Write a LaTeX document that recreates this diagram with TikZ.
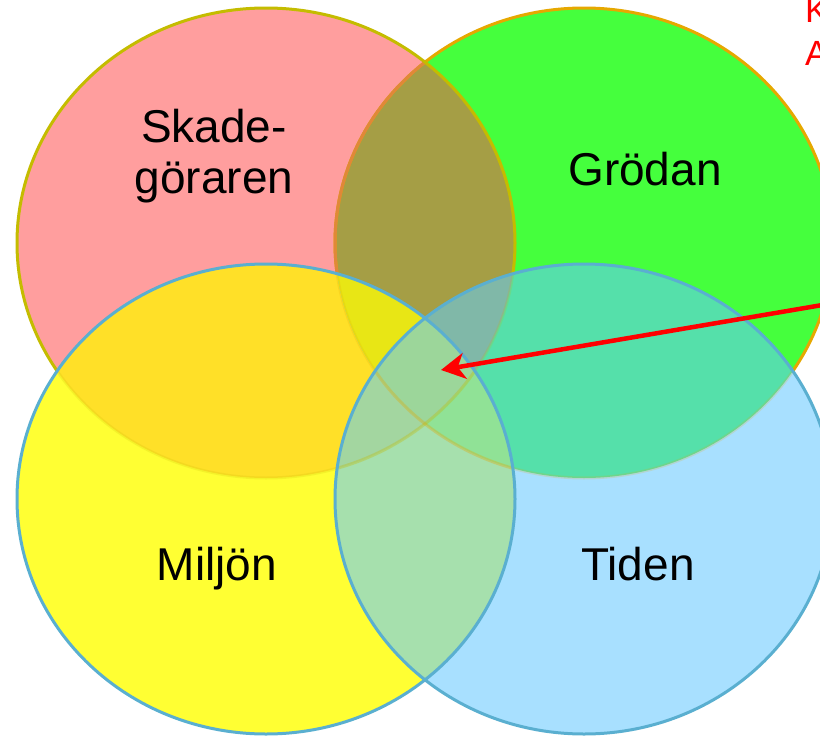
\documentclass[tikz,border=0pt]{standalone}
\usepackage{fontspec}
\setmainfont{Liberation Sans}
\usetikzlibrary{arrows.meta}
\definecolor{cP}{HTML}{FF9E9E}
\definecolor{cG}{HTML}{45FF3D}
\definecolor{cY}{HTML}{FFFF33}
\definecolor{cB}{HTML}{A8E0FF}
\definecolor{cPG}{HTML}{A59E45}
\definecolor{cPY}{HTML}{FFE028}
\definecolor{cPB}{HTML}{A3D6A0}
\definecolor{cGY}{HTML}{90E296}
\definecolor{cGB}{HTML}{55E0AA}
\definecolor{cYB}{HTML}{A6E0AD}
\definecolor{cPGY}{HTML}{E8E615}
\definecolor{cPGB}{HTML}{80B8A8}
\definecolor{cPYB}{HTML}{A3D6A0}
\definecolor{cGYB}{HTML}{90E296}
\definecolor{cPGYB}{HTML}{9CD69A}
\definecolor{lnP}{HTML}{C4BC00}
\definecolor{lnG}{HTML}{E6A800}
\definecolor{lnGinP}{HTML}{E08838}
\definecolor{lnYB}{HTML}{5AAFD0}
\def\cirP{(266,243) ellipse [x radius=249pt, y radius=235pt]}
\def\cirG{(584,243) ellipse [x radius=249pt, y radius=235pt]}
\def\cirY{(266,499) ellipse [x radius=249pt, y radius=235pt]}
\def\cirB{(584,499) ellipse [x radius=249pt, y radius=235pt]}
\newcommand\fillOne[2]{\fill[#2] #1;}
\newcommand\fillTwo[3]{\begin{scope}\clip #1; \fill[#3] #2;\end{scope}}
\newcommand\fillThree[4]{\begin{scope}\clip #1; \clip #2; \fill[#4] #3;\end{scope}}
\newcommand\fillFour[5]{\begin{scope}\clip #1; \clip #2; \clip #3; \fill[#5] #4;\end{scope}}
\tikzset{
  lab/.style={inner sep=0pt, align=center, font=\fontsize{46}{51}\selectfont},
  redlab/.style={inner sep=0pt, anchor=base west, text=red, font=\fontsize{35}{40}\selectfont},
  edgeP/.style={draw=lnP, line width=3pt},
  edgeG/.style={draw=lnG, line width=3pt},
  edgeYB/.style={draw=lnYB, line width=3pt},
  faint/.style={line width=3pt, opacity=0.18},
  redarrow/.style={draw=red, line width=4.5pt, -{Stealth[length=24pt, width=26pt, inset=7pt]}}
}
\begin{document}
\begin{tikzpicture}[x=1pt,y=-1pt]
\useasboundingbox (0,0) rectangle (820,736);
\clip (0,0) rectangle (820,736);
% base fills
\fillOne{\cirP}{cP}
\fillOne{\cirG}{cG}
\fillOne{\cirY}{cY}
\fillOne{\cirB}{cB}
\fillTwo{\cirP}{\cirG}{cPG}
\fillTwo{\cirP}{\cirY}{cPY}
\fillTwo{\cirP}{\cirB}{cPB}
\fillTwo{\cirG}{\cirY}{cGY}
\fillTwo{\cirG}{\cirB}{cGB}
\fillTwo{\cirY}{\cirB}{cYB}
\fillThree{\cirP}{\cirG}{\cirY}{cPGY}
\fillThree{\cirP}{\cirG}{\cirB}{cPGB}
\fillThree{\cirP}{\cirY}{\cirB}{cPYB}
\fillThree{\cirG}{\cirY}{\cirB}{cGYB}
\fillFour{\cirP}{\cirG}{\cirY}{\cirB}{cPGYB}
% outlines of the two upper circles
\path[edgeG] \cirG;
\begin{scope}\clip \cirP; \draw[draw=lnGinP, line width=3pt] \cirG; \end{scope}
\path[edgeP] \cirP;
% repaint everything inside the two lower circles
\fillOne{\cirY}{cY}
\fillOne{\cirB}{cB}
\fillTwo{\cirP}{\cirY}{cPY}
\fillTwo{\cirP}{\cirB}{cPB}
\fillTwo{\cirG}{\cirY}{cGY}
\fillTwo{\cirG}{\cirB}{cGB}
\fillTwo{\cirY}{\cirB}{cYB}
\fillThree{\cirP}{\cirG}{\cirY}{cPGY}
\fillThree{\cirP}{\cirG}{\cirB}{cPGB}
\fillThree{\cirP}{\cirY}{\cirB}{cPYB}
\fillThree{\cirG}{\cirY}{\cirB}{cGYB}
\fillFour{\cirP}{\cirG}{\cirY}{\cirB}{cPGYB}
% faint outlines of upper circles seen through the lower ones
\begin{scope}\clip \cirY; \draw[faint, draw=lnP] \cirP; \draw[faint, draw=lnG] \cirG; \end{scope}
\begin{scope}\clip \cirB; \draw[faint, draw=lnP] \cirP; \draw[faint, draw=lnG] \cirG; \end{scope}
% outlines of the lower circles
\path[edgeYB] \cirY;
\path[edgeYB] \cirB;
% labels
\node[lab, anchor=base] (skade) at (214,193) {Skade-\\göraren};
\node[lab, anchor=base] (grodan) at (645,185) {Grödan};
\node[lab, anchor=base] (miljon) at (217,580) {Miljön};
\node[lab, anchor=base] (tiden) at (638,580) {Tiden};
\node[redlab] (redK) at (805,22) {K};
\node[redlab] (redA) at (805,65) {A};
% arrow
\coordinate (arrowstart) at (840,302);
\coordinate (arrowtip) at (441,370);
\path[redarrow] (arrowstart) -- (arrowtip);
\end{tikzpicture}
\end{document}
